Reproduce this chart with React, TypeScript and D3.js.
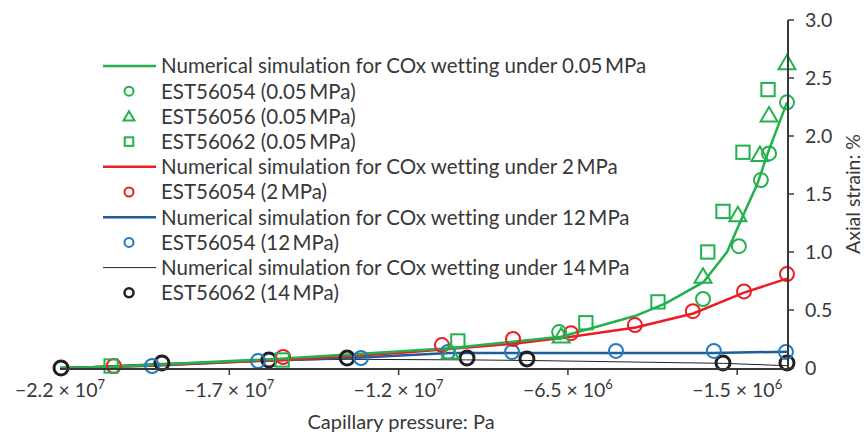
import React from "react";
import * as d3 from "d3";

// capillary pressure in MPa (x 1e6 Pa), axial strain in %
const simGreen = [[-22, 0], [-20.5, 0.01], [-15.5, 0.08], [-10.5, 0.17], [-7.2, 0.27], [-5, 0.45], [-4.1, 0.56], [-3, 0.74], [-2.3, 1.0], [-1.85, 1.3], [-1.4, 1.59], [-1.1, 1.85], [-0.53, 2.29]];
const simRed = [[-22, 0], [-20.4, 0.01], [-15.4, 0.07], [-12, 0.13], [-10.7, 0.16], [-8.6, 0.21], [-6.9, 0.27], [-5, 0.35], [-3.3, 0.47], [-1.8, 0.65], [-0.53, 0.77]];
const simBlue = [[-22, 0], [-19.3, 0.02], [-16.2, 0.06], [-13.1, 0.09], [-10.5, 0.13], [-8.6, 0.13], [-5.6, 0.13], [-2.7, 0.13], [-0.53, 0.14]];
const simBlack = [[-22, 0], [-19, 0.04], [-15.8, 0.065], [-13.5, 0.075], [-10, 0.07], [-8.2, 0.065], [-2.4, 0.04], [-0.53, 0.02]];

const est56054_005 = [[-7.26, 0.31], [-3.01, 0.595], [-1.95, 1.05], [-1.3, 1.62], [-1.06, 1.85], [-0.53, 2.29]];
const est56056_005 = [[-10.48, 0.138], [-7.2, 0.276], [-3.01, 0.79], [-1.98, 1.32], [-1.33, 1.84], [-1.06, 2.18], [-0.53, 2.63]];
const est56062_005 = [[-20.49, 0.017], [-15.44, 0.069], [-10.25, 0.233], [-6.47, 0.39], [-4.34, 0.57], [-2.87, 1.0], [-2.42, 1.35], [-1.83, 1.86], [-1.09, 2.4]];
const est56054_2 = [[-20.41, 0.017], [-15.41, 0.095], [-10.72, 0.198], [-8.62, 0.25], [-6.91, 0.3], [-5.02, 0.37], [-3.31, 0.49], [-1.8, 0.66], [-0.53, 0.81]];
const est56054_12 = [[-19.28, 0.017], [-16.15, 0.06], [-13.11, 0.086], [-10.54, 0.138], [-8.65, 0.138], [-5.58, 0.147], [-2.69, 0.147], [-0.56, 0.138]];
const est56062_14 = [[-21.97, 0], [-18.99, 0.043], [-15.83, 0.069], [-13.52, 0.086], [-9.98, 0.086], [-8.21, 0.078], [-2.42, 0.043], [-0.53, 0.043]];

const xTicks = [-22, -17, -12, -7, -2];
const xTickLabels = [["−2.2 × 10", "7"], ["−1.7 × 10", "7"], ["−1.2 × 10", "7"], ["−6.5 × 10", "6"], ["−1.5 × 10", "6"]];
const yTicks = [0, 0.5, 1, 1.5, 2, 2.5, 3];
const yTickLabels = ["0", "0.5", "1.0", "1.5", "2.0", "2.5", "3.0"];

const legendLabels = [
  "Numerical simulation for COx wetting under 0.05\u2009MPa",
  "EST56054 (0.05\u2009MPa)",
  "EST56056 (0.05\u2009MPa)",
  "EST56062 (0.05\u2009MPa)",
  "Numerical simulation for COx wetting under 2\u2009MPa",
  "EST56054 (2\u2009MPa)",
  "Numerical simulation for COx wetting under 12\u2009MPa",
  "EST56054 (12\u2009MPa)",
  "Numerical simulation for COx wetting under 14\u2009MPa",
  "EST56062 (14\u2009MPa)",
];

const GREEN = "#22b14c";
const RED = "#ed1c24";
const BLUE_LINE = "#1f5c99";
const BLUE_MARK = "#2279c4";
const BLACK = "#231f20";
const TEXT = "#383838";
const FONT = "Lato, 'Open Sans', sans-serif";

const width = 866;
const height = 434;

const x = d3.scaleLinear().domain([-22, -0.5]).range([60, 788]);
const y = d3.scaleLinear().domain([0, 3]).range([368, 20]);

const line = d3
  .line<number[]>()
  .x((d) => x(d[0]))
  .y((d) => y(d[1]));

const Marker = ({ shape, cx, cy, color, size }) => {
  if (shape === "circle") {
    return <circle cx={cx} cy={cy} r={size} fill="none" stroke={color} />;
  }
  if (shape === "triangle") {
    const s = size * 1.15;
    const p = [
      [cx, cy - s],
      [cx + s * 1.05, cy + s * 0.8],
      [cx - s * 1.05, cy + s * 0.8],
    ];
    return <polygon points={p.map((q) => q.join(",")).join(" ")} fill="none" stroke={color} />;
  }
  const h = size * 0.95;
  return <rect x={cx - h} y={cy - h} width={h * 2} height={h * 2} fill="none" stroke={color} />;
};

const App = () => {
  const legendTop = 66;
  const legendStep = 25.2;
  const legendItems = [
    { type: "line", color: GREEN, w: 2.5 },
    { type: "circle", color: GREEN },
    { type: "triangle", color: GREEN },
    { type: "square", color: GREEN },
    { type: "line", color: RED, w: 2.5 },
    { type: "circle", color: RED },
    { type: "line", color: BLUE_LINE, w: 2.5 },
    { type: "circle", color: BLUE_MARK },
    { type: "line", color: BLACK, w: 1 },
    { type: "circle", color: BLACK, sw: 2.5 },
  ];

  const markers = [
    { data: est56062_14, shape: "circle", color: BLACK },
    { data: est56054_12, shape: "circle", color: BLUE_MARK },
    { data: est56054_2, shape: "circle", color: RED },
    { data: est56062_005, shape: "square", color: GREEN },
    { data: est56056_005, shape: "triangle", color: GREEN },
    { data: est56054_005, shape: "circle", color: GREEN },
  ];

  return (
    <svg
      width={width}
      height={height}
      style={{ position: "absolute", left: 0, top: 0, background: "#fff", fontVariantLigatures: "none" }}
      fontFamily={FONT}
    >
      {/* simulation curves */}
      <path d={line(simBlack)} fill="none" stroke={BLACK} strokeWidth={1} />
      <path d={line(simBlue)} fill="none" stroke={BLUE_LINE} strokeWidth={2.5} />
      <path d={line(simRed)} fill="none" stroke={RED} strokeWidth={2.5} />
      <path d={line(simGreen)} fill="none" stroke={GREEN} strokeWidth={2.5} />

      {/* experimental points */}
      {markers.map((m, i) => (
        <g key={i} strokeWidth={m.color === BLACK ? 3 : 2}>
          {m.data.map((d, j) => (
            <Marker key={j} shape={m.shape} cx={x(d[0])} cy={y(d[1])} color={m.color} size={7} />
          ))}
        </g>
      ))}

      {/* x axis */}
      <line x1={x(-22)} x2={x(-0.5) + 1} y1={369} y2={369} stroke={TEXT} strokeWidth={2} />
      {xTicks.map((t, i) => (
        <g key={t} transform={`translate(${x(t)},369)`}>
          {i > 0 && <line y1={0} y2={6} stroke={TEXT} strokeWidth={1.5} />}
          <text y={28} textAnchor="middle" fontSize={19.5} fill={TEXT}>
            {xTickLabels[i][0]}
            <tspan fontSize={13} dy={-8}>{xTickLabels[i][1]}</tspan>
          </text>
        </g>
      ))}
      <text x={401} y={429} textAnchor="middle" fontSize={20} fill={TEXT}>
        Capillary pressure: Pa
      </text>

      {/* y axis on the right */}
      <line x1={788} x2={788} y1={y(3)} y2={370} stroke={TEXT} strokeWidth={2} />
      {yTicks.map((t, i) => (
        <g key={t} transform={`translate(788,${y(t)})`}>
          <line x1={0} x2={6} stroke={TEXT} strokeWidth={1.5} />
          <text x={17} dy="0.36em" fontSize={19.5} fill={TEXT}>
            {yTickLabels[i]}
          </text>
        </g>
      ))}
      <text
        transform={`translate(860,${(y(3) + y(0)) / 2}) rotate(-90)`}
        textAnchor="middle"
        fontSize={19.5}
        fill={TEXT}
      >
        Axial strain: %
      </text>

      {/* legend */}
      {legendItems.map((it, i) => {
        const cy = legendTop + i * legendStep;
        return (
          <g key={i}>
            {it.type === "line" ? (
              <line x1={103} x2={156} y1={cy} y2={cy} stroke={it.color} strokeWidth={it.w} />
            ) : (
              <g strokeWidth={it.sw || 2}>
                <Marker shape={it.type} cx={129} cy={cy} color={it.color} size={4.5} />
              </g>
            )}
            <text x={161} y={cy} dy="0.36em" fontSize={20.5} fill={TEXT}>
              {legendLabels[i]}
            </text>
          </g>
        );
      })}
    </svg>
  );
};

export default App;
